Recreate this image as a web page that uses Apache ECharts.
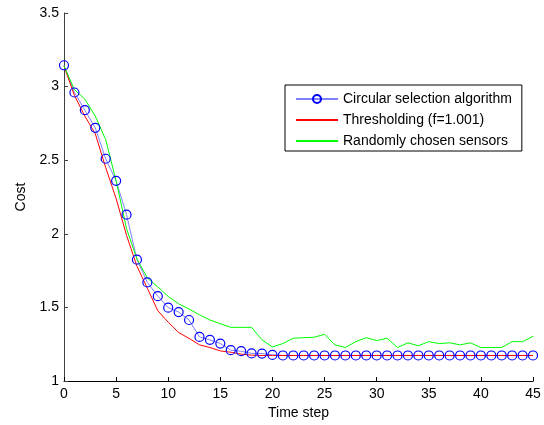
<!DOCTYPE html>
<html>
<head>
<meta charset="utf-8">
<script src="https://cdn.jsdelivr.net/npm/echarts@6/dist/echarts.min.js"></script>
<style>html,body{margin:0;padding:0;background:#fff}#c{width:544px;height:425px}</style>
</head>
<body>
<div id="c"></div>
<script>
var steps = [];
for (var i = 0; i <= 45; i++) steps.push(i);
var seriesNames = ['Circular selection algorithm', 'Thresholding (f=1.001)', 'Randomly chosen sensors'];
var circular = [3.145, 2.96, 2.84, 2.72, 2.51, 2.36, 2.13, 1.825, 1.67, 1.577, 1.499, 1.469, 1.415, 1.30, 1.28, 1.255, 1.21, 1.203, 1.188, 1.187, 1.178,
  1.174, 1.174, 1.174, 1.174, 1.174, 1.174, 1.174, 1.174, 1.174, 1.174, 1.174, 1.174, 1.174, 1.174, 1.174, 1.174, 1.174, 1.174, 1.174, 1.174, 1.174, 1.174, 1.174, 1.174, 1.174];
var thresholding = [3.14, 2.94, 2.80, 2.68, 2.45, 2.24, 1.99, 1.78, 1.63, 1.478, 1.40, 1.33, 1.29, 1.246, 1.228, 1.205, 1.196, 1.183, 1.176,
  1.174, 1.174, 1.174, 1.174, 1.174, 1.174, 1.174, 1.174, 1.174, 1.174, 1.174, 1.174, 1.174, 1.174, 1.174, 1.174, 1.174, 1.174, 1.174, 1.174, 1.174, 1.174, 1.174, 1.174, 1.174, 1.174, 1.174];
var randomSensors = [3.14, 2.98, 2.915, 2.80, 2.64, 2.36, 2.035, 1.83, 1.70, 1.64, 1.575, 1.525, 1.49, 1.45, 1.415, 1.39, 1.365, 1.365, 1.365, 1.28,
  1.232, 1.255, 1.291, 1.295, 1.298, 1.318, 1.246, 1.228, 1.268, 1.295, 1.275, 1.291, 1.228, 1.26, 1.24, 1.268, 1.255, 1.26, 1.246, 1.26,
  1.228, 1.228, 1.228, 1.268, 1.268, 1.304];

function pairs(ys) { return steps.map(function (x, i) { return [x, ys[i]]; }); }

var font = 'Liberation Sans, Arial, sans-serif';
var chart = echarts.init(document.getElementById('c'), null, {renderer: 'canvas'});
chart.setOption({
  animation: false,
  backgroundColor: '#fff',
  textStyle: {fontFamily: font},
  grid: {left: 64, top: 13, right: 11, bottom: 42, containLabel: false},
  xAxis: {
    type: 'value', min: 0, max: 45, interval: 5,
    name: 'Time step', nameLocation: 'middle', nameGap: 23,
    nameTextStyle: {fontFamily: font, fontSize: 14, color: '#000'},
    axisLine: {show: true, lineStyle: {color: '#000', width: 1}},
    axisTick: {show: true, inside: true, length: 4, lineStyle: {color: '#000'}},
    axisLabel: {fontFamily: font, fontSize: 14, color: '#000', margin: 6},
    splitLine: {show: false}
  },
  yAxis: {
    type: 'value', min: 1, max: 3.5, interval: 0.5,
    name: 'Cost', nameLocation: 'middle', nameGap: 31, nameRotate: 90,
    nameTextStyle: {fontFamily: font, fontSize: 14, color: '#000'},
    axisLine: {show: true, lineStyle: {color: '#404040', width: 1}},
    axisTick: {show: true, inside: true, length: 4, lineStyle: {color: '#404040'}},
    axisLabel: {fontFamily: font, fontSize: 14, color: '#000', margin: 5},
    splitLine: {show: false}
  },
  legend: {
    orient: 'vertical', left: 285, top: 85,
    backgroundColor: '#fff', borderColor: '#000', borderWidth: 1, borderRadius: 0,
    padding: [7, 10, 3, 10], itemGap: 7, itemWidth: 42, itemHeight: 10,
    textStyle: {fontFamily: font, fontSize: 14, color: '#000', padding: [0, 0, 0, 0]},
    data: [
      {name: seriesNames[0]},
      {name: seriesNames[1], itemStyle: {opacity: 0}},
      {name: seriesNames[2], itemStyle: {opacity: 0}}
    ]
  },
  series: [
    {name: seriesNames[0], type: 'line', data: pairs(circular),
     symbol: 'circle', symbolSize: 9, showAllSymbol: true,
     lineStyle: {color: '#8080ff', width: 1},
     itemStyle: {color: 'rgba(0,0,0,0)', borderColor: '#0000ff', borderWidth: 1.2}},
    {name: seriesNames[1], type: 'line', data: pairs(thresholding), symbol: 'none',
     lineStyle: {color: '#ff0000', width: 1}, itemStyle: {color: '#ff0000'}},
    {name: seriesNames[2], type: 'line', data: pairs(randomSensors), symbol: 'none',
     lineStyle: {color: '#00ff00', width: 1}, itemStyle: {color: '#00ff00'}}
  ]
});
</script>
</body>
</html>
